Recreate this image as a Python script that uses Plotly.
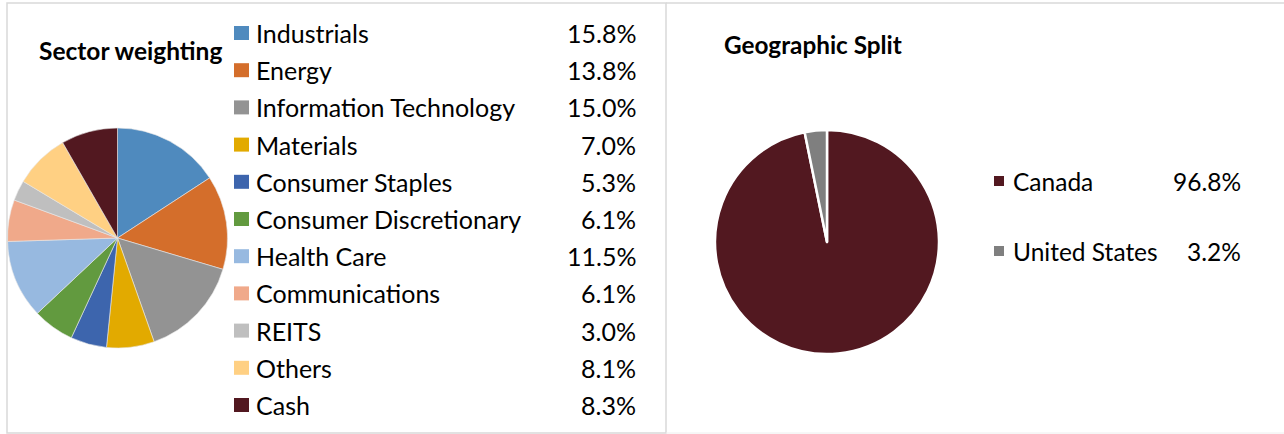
import plotly.graph_objects as go

W, H = 1284, 434

# ---- data ----
sectors = ["Industrials", "Energy", "Information Technology", "Materials",
           "Consumer Staples", "Consumer Discretionary", "Health Care",
           "Communications", "REITS", "Others", "Cash"]
sector_weights = [15.8, 13.8, 15.0, 7.0, 5.3, 6.1, 11.5, 6.1, 3.0, 8.1, 8.3]
sector_colors = ["#4F8ABE", "#D46E2B", "#939393", "#E2AA00", "#3D65AD",
                 "#629A3F", "#97B9E0", "#F0A98A", "#BFBFBF", "#FFD083", "#521820"]

regions = ["Canada", "United States"]
region_weights = [96.8, 3.2]
region_colors = ["#521820", "#7F7F7F"]

FONT = "Lato"
FS = 25


def px(x):
    return x / W


def py(y):
    return 1 - y / H


fig = go.Figure()

fig.add_trace(go.Pie(
    labels=sectors, values=sector_weights, sort=False, direction="clockwise",
    rotation=0, marker=dict(colors=sector_colors, line=dict(color="#E8E8E8", width=0.6)),
    textinfo="none", hoverinfo="label+percent",
    domain=dict(x=[px(7.5), px(227.5)], y=[py(348), py(128)]),
    showlegend=False,
))

fig.add_trace(go.Pie(
    labels=regions, values=region_weights, sort=False, direction="clockwise",
    rotation=0, marker=dict(colors=region_colors, line=dict(color="white", width=2.5)),
    textinfo="none", hoverinfo="label+percent",
    domain=dict(x=[px(715), px(939)], y=[py(354), py(130)]),
    showlegend=False,
))

shapes = []
annotations = []
border = "#D9D9D9"
# panel borders
shapes.append(dict(type="rect", xref="paper", yref="paper",
                   x0=px(7), x1=px(666), y0=py(433), y1=py(3),
                   line=dict(color=border, width=1.5), fillcolor="rgba(0,0,0,0)"))
shapes.append(dict(type="line", xref="paper", yref="paper",
                   x0=px(666), x1=1, y0=py(3), y1=py(3),
                   line=dict(color=border, width=1.5)))
shapes.append(dict(type="line", xref="paper", yref="paper",
                   x0=px(666), x1=1, y0=py(433), y1=py(433),
                   line=dict(color="#EEEEEE", width=1)))

# titles
annotations.append(dict(text="<b>Sector weighting</b>", x=px(37), y=py(50),
                        xref="paper", yref="paper", xanchor="left", yanchor="middle",
                        showarrow=False, font=dict(family=FONT, size=24.5, color="black")))
annotations.append(dict(text="<b>Geographic Split</b>", x=px(722), y=py(44),
                        xref="paper", yref="paper", xanchor="left", yanchor="middle",
                        showarrow=False, font=dict(family=FONT, size=24.3, color="black")))

# left legend
row0, step = 33, 37.2
for i, (name, val, col) in enumerate(zip(sectors, sector_weights, sector_colors)):
    yc = row0 + i * step
    shapes.append(dict(type="rect", xref="paper", yref="paper",
                       x0=px(234), x1=px(249), y0=py(yc + 7), y1=py(yc - 7),
                       line=dict(width=0), fillcolor=col))
    annotations.append(dict(text=name, x=px(254), y=py(yc), xref="paper", yref="paper",
                            xanchor="left", yanchor="middle", showarrow=False,
                            font=dict(family=FONT, size=FS, color="black")))
    annotations.append(dict(text=f"{val:.1f}%", x=px(638), y=py(yc), xref="paper",
                            yref="paper", xanchor="right", yanchor="middle",
                            showarrow=False, font=dict(family=FONT, size=FS, color="black")))

# right legend
rrows = [181, 251]
for name, val, col, yc in zip(regions, region_weights, region_colors, rrows):
    shapes.append(dict(type="rect", xref="paper", yref="paper",
                       x0=px(994), x1=px(1004), y0=py(yc + 5), y1=py(yc - 5),
                       line=dict(width=0), fillcolor=col))
    annotations.append(dict(text=name, x=px(1011), y=py(yc), xref="paper", yref="paper",
                            xanchor="left", yanchor="middle", showarrow=False,
                            font=dict(family=FONT, size=24.5, color="black")))
    annotations.append(dict(text=f"{val:.1f}%", x=px(1243), y=py(yc), xref="paper",
                            yref="paper", xanchor="right", yanchor="middle",
                            showarrow=False, font=dict(family=FONT, size=24.5, color="black")))

fig.update_layout(
    width=W, height=H, margin=dict(l=0, r=0, t=0, b=0),
    paper_bgcolor="white", plot_bgcolor="white",
    shapes=shapes, annotations=annotations,
    font=dict(family=FONT),
)

fig.write_html("out.html", config={"displayModeBar": False})
